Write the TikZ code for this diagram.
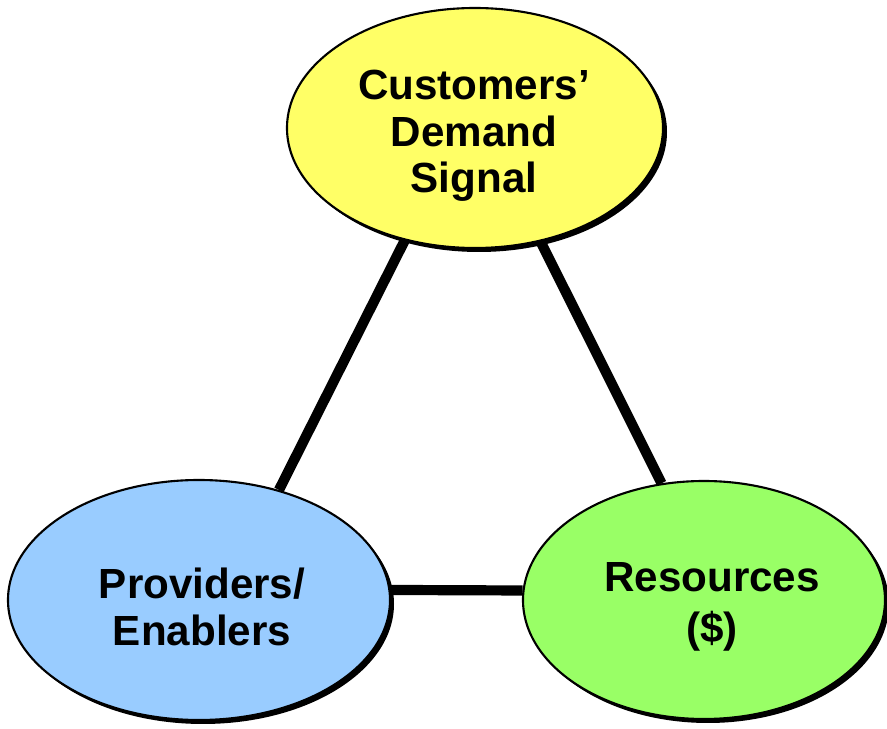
\documentclass[tikz,border=0pt]{standalone}
\usepackage{fontspec}
\setmainfont{Liberation Sans}
\usetikzlibrary{shapes.geometric,shadows}
\definecolor{demandyellow}{HTML}{FFFF66}
\definecolor{providerblue}{HTML}{99CCFF}
\definecolor{resourcegreen}{HTML}{99FF66}

\begin{document}
\begin{tikzpicture}[x=0.02cm,y=-0.02cm,
        blob/.style={ellipse, draw=black, line width=1.2pt, inner sep=0pt,
            drop shadow={shadow xshift=0.08cm, shadow yshift=-0.08cm, opacity=1, fill=black}},
        blobtext/.style={align=center, inner sep=0pt, font=\fontsize{24}{26.5}\selectfont\bfseries},
        link/.style={line width=5.8pt}]
        \useasboundingbox (0,0) rectangle (887,729);
        \node[blob, fill=demandyellow, minimum width=376*0.02cm, minimum height=240*0.02cm] (demand) at (475,128) {};
        \node[blob, fill=providerblue, minimum width=382*0.02cm, minimum height=240*0.02cm] (providers) at (199,600) {};
        \node[blob, fill=resourcegreen, minimum width=362*0.02cm, minimum height=238*0.02cm] (resources) at (704,600) {};
        \node[blobtext] (demandtext) at (474,136) {Customers’\\Demand\\Signal};
        \node[blobtext] (providerstext) at (202,607) {Providers/\\Enablers};
        \node[blobtext, font=\fontsize{24}{29}\selectfont\bfseries] (resourcestext) at (712,607) {Resources\\(\$)};
        \draw[link] (demand.238) -- (providers.54);
        \draw[link] (demand.300) -- (resources.110);
        \draw[link] (providers.3) -- (resources.177);
    \end{tikzpicture}
\end{document}
